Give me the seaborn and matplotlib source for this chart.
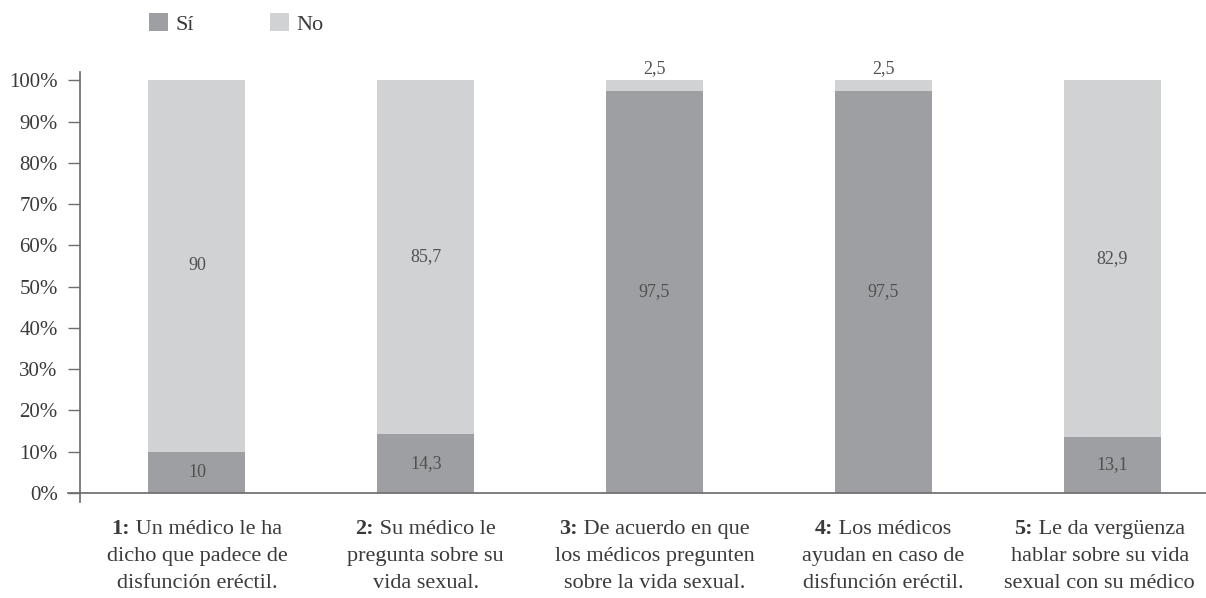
import matplotlib
matplotlib.use("Agg")
import matplotlib.pyplot as plt
import numpy as np
import pandas as pd
import seaborn as sns
from matplotlib.offsetbox import AnnotationBbox, HPacker, TextArea, VPacker
from matplotlib.patches import Patch

# Datos (porcentajes)
categorias = ["1", "2", "3", "4", "5"]
valores_si = [10, 14.3, 97.5, 97.5, 13.1]
valores_no = [90, 85.7, 2.5, 2.5, 82.9]
etiquetas_num = ["1:", "2:", "3:", "4:", "5:"]
etiquetas_txt = [
    ["Un médico le ha", "dicho que padece de", "disfunción eréctil."],
    ["Su médico le", "pregunta sobre su", "vida sexual."],
    ["De acuerdo en que", "los médicos pregunten", "sobre la vida sexual."],
    ["Los médicos", "ayudan en caso de", "disfunción eréctil."],
    ["Le da vergüenza", "hablar sobre su vida", "sexual con su médico"],
]

COLOR_SI = "#9e9fa3"
COLOR_NO = "#d1d2d4"
TEXTO = "#3a3a3a"
EJE = "#6e6e6e"

sns.set_theme(style="white")
plt.rcParams["font.family"] = ["Liberation Serif", "DejaVu Serif"]

df = pd.DataFrame({"pregunta": categorias, "si": valores_si, "no": valores_no})
total = df["si"] + df["no"]
df["si_pct"] = df["si"] / total * 100
df["total_pct"] = 100.0

fig = plt.figure(figsize=(12.06, 5.98), dpi=100)
ax = fig.add_axes([80 / 1206, 96 / 598, 1 - 80 / 1206, 430 / 598])

sns.barplot(data=df, x="pregunta", y="total_pct", color=COLOR_NO, width=0.424,
            saturation=1, linewidth=0, ax=ax)
sns.barplot(data=df, x="pregunta", y="si_pct", color=COLOR_SI, width=0.424,
            saturation=1, linewidth=0, ax=ax)

ax.set_xlim(-0.511, 4.41)
ax.set_ylim(-2.2, 102)
ax.set_xlabel("")
ax.set_ylabel("")

# valores dentro de las barras
for i, row in df.iterrows():
    si_h = row["si_pct"]
    if row["si"] >= 5:
        ax.text(i, si_h / 2, f"{row['si']:g}".replace(".", ","), ha="center",
                va="center", fontsize=13, color="#505050")
    no_label = f"{row['no']:g}".replace(".", ",")
    if row["no"] >= 5:
        ax.text(i, si_h + (100 - si_h) / 2, no_label, ha="center", va="center",
                fontsize=13, color="#505050")
    else:
        ax.annotate(no_label, (i, 100), xytext=(0, 2), textcoords="offset points",
                    ha="center", va="bottom", fontsize=13, color="#505050")

# ejes
for side in ["top", "right"]:
    ax.spines[side].set_visible(False)
ax.spines["left"].set_color(EJE)
ax.spines["bottom"].set_color(EJE)
ax.spines["bottom"].set_position(("data", 0))
ax.spines["bottom"].set_bounds(-0.563, 4.41)
ax.spines["left"].set_bounds(-2.2, 102)
ax.spines["bottom"].set_clip_on(False)
ax.set_yticks(np.arange(0, 101, 10))
ax.set_yticklabels([f"{v}%" for v in range(0, 101, 10)])
ax.tick_params(axis="y", length=9, width=1, color=EJE, labelsize=15,
               labelcolor=TEXTO, pad=7, left=True)
ax.set_xticks([])

# etiquetas de categoría con número en negrita
for i, (num, lineas) in enumerate(zip(etiquetas_num, etiquetas_txt)):
    props = dict(fontsize=16, color=TEXTO, family="Liberation Serif")
    primera = HPacker(children=[
        TextArea(num, textprops=dict(props, fontweight="bold")),
        TextArea(" " + lineas[0], textprops=props),
    ], align="baseline", pad=0, sep=0)
    filas = [primera] + [TextArea(t, textprops=props) for t in lineas[1:]]
    bloque = VPacker(children=filas, align="center", pad=0, sep=5.5)
    dx = -9 if i == len(categorias) - 1 else 0
    ab = AnnotationBbox(bloque, (i, 0), xybox=(dx, -19), xycoords="data",
                        boxcoords="offset points", box_alignment=(0.5, 1),
                        frameon=False, annotation_clip=False)
    ax.add_artist(ab)

# leyenda
handles = [Patch(facecolor=COLOR_SI, edgecolor="none", label="Sí"),
           Patch(facecolor=COLOR_NO, edgecolor="none", label="No")]
leg = fig.legend(handles=handles, loc="upper left", bbox_to_anchor=(133 / 1206, 1.004),
                 ncol=2, frameon=False, fontsize=16, handlelength=0.86,
                 handleheight=0.86, handletextpad=0.36, columnspacing=3.4,
                 borderaxespad=0.3)
for t in leg.get_texts():
    t.set_color(TEXTO)

fig.savefig("out.png", dpi=100)
